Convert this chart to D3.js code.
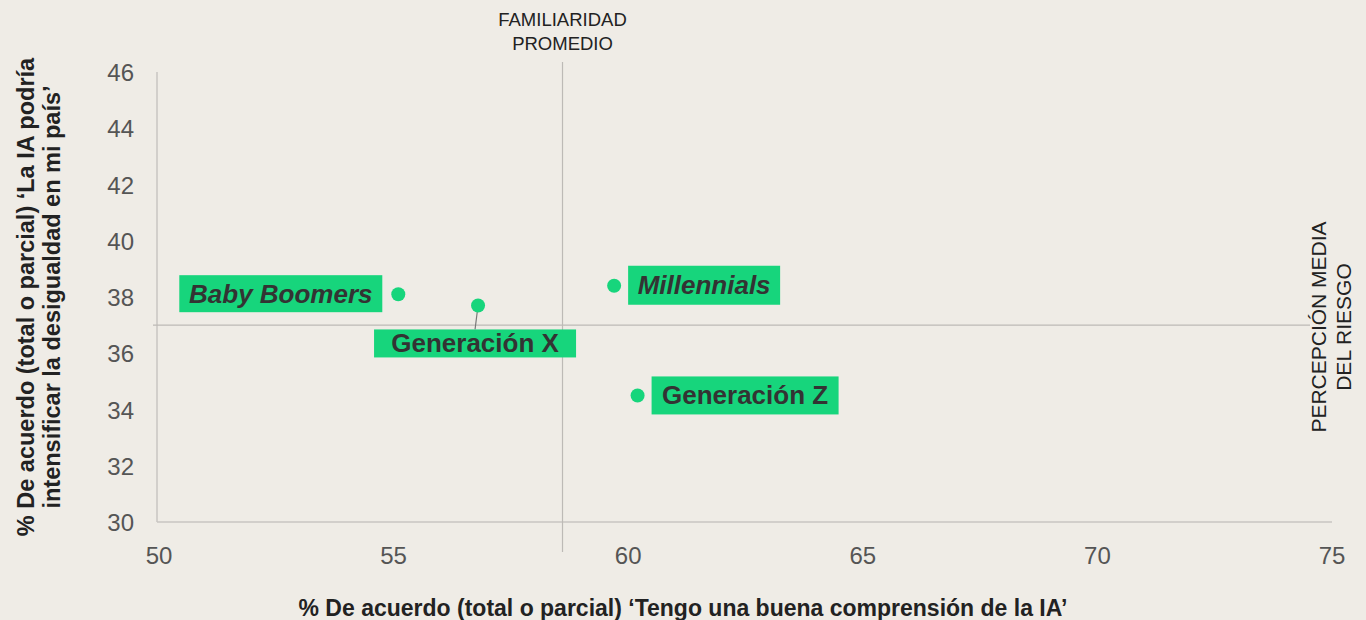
<!DOCTYPE html>
<html>
<head>
<meta charset="utf-8">
<script src="https://cdn.jsdelivr.net/npm/d3@7"></script>
<style>
  body { margin: 0; background: #efece6; }
  svg { font-family: "Liberation Sans", Arial, sans-serif; }
</style>
</head>
<body>
<svg id="chart" width="1366" height="620"></svg>
<script>
// generations and their values
var groups = ["Baby Boomers", "Generación X", "Millennials", "Generación Z"]
var comprension = [55.1, 56.8, 59.7, 60.2]
var desigualdad = [38.1, 37.7, 38.4, 34.5]
var italic = [true, false, true, false]

var xTicks = [50, 55, 60, 65, 70, 75]
var yTicks = [30, 32, 34, 36, 38, 40, 42, 44, 46]
var avgX = 58.6
var avgY = 37.0

var green = "#17d57c"
var svg = d3.select("#chart")

var x = d3.scaleLinear().domain([50, 75]).range([159, 1332])
var y = d3.scaleLinear().domain([30, 46]).range([522, 72])

// axes lines
svg.append("line")
  .attr("x1", 157).attr("x2", 157).attr("y1", y(46)).attr("y2", y(30))
  .attr("stroke", "#c9c6c2").attr("stroke-width", 1.5)
svg.append("line")
  .attr("x1", 157).attr("x2", x(75)).attr("y1", y(30)).attr("y2", y(30))
  .attr("stroke", "#c9c6c2").attr("stroke-width", 1.5)

// tick labels
svg.append("g").selectAll("text")
  .data(xTicks).enter().append("text")
  .attr("x", function(d) { return x(d) })
  .attr("y", 564)
  .attr("text-anchor", "middle")
  .attr("font-size", 24)
  .attr("fill", "#555")
  .text(function(d) { return d })

svg.append("g").selectAll("text")
  .data(yTicks).enter().append("text")
  .attr("x", 134)
  .attr("y", function(d) { return y(d) + 9 })
  .attr("text-anchor", "end")
  .attr("font-size", 24)
  .attr("fill", "#555")
  .text(function(d) { return d })

// reference lines
svg.append("line")
  .attr("x1", x(avgX)).attr("x2", x(avgX)).attr("y1", 62).attr("y2", 552)
  .attr("stroke", "#bdbab6").attr("stroke-width", 1.2)
svg.append("line")
  .attr("x1", 153).attr("x2", 1310).attr("y1", y(avgY)).attr("y2", y(avgY))
  .attr("stroke", "#bdbab6").attr("stroke-width", 1.2)

svg.append("text")
  .attr("x", x(avgX)).attr("y", 26)
  .attr("text-anchor", "middle").attr("font-size", 18.5).attr("fill", "#222")
  .selectAll("tspan").data(["FAMILIARIDAD", "PROMEDIO"]).enter().append("tspan")
  .attr("x", x(avgX)).attr("dy", function(d, i) { return i ? 24 : 0 })
  .text(function(d) { return d })

svg.append("text")
  .attr("transform", "translate(1326,327) rotate(-90)")
  .attr("text-anchor", "middle").attr("font-size", 21).attr("fill", "#222")
  .selectAll("tspan").data(["PERCEPCIÓN MEDIA", "DEL RIESGO"]).enter().append("tspan")
  .attr("x", 0).attr("dy", function(d, i) { return i ? 25 : 0 })
  .text(function(d) { return d })

// axis titles
svg.append("text")
  .attr("x", 683).attr("y", 616)
  .attr("text-anchor", "middle").attr("font-size", 23).attr("font-weight", "bold").attr("fill", "#222")
  .text("% De acuerdo (total o parcial) ‘Tengo una buena comprensión de la IA’")

svg.append("text")
  .attr("transform", "translate(34,297) rotate(-90)")
  .attr("text-anchor", "middle").attr("font-size", 23.5).attr("font-weight", "bold").attr("fill", "#222")
  .selectAll("tspan").data(["% De acuerdo (total o parcial) ‘La IA podría", "intensificar la desigualdad en mi país’"]).enter().append("tspan")
  .attr("x", 0).attr("dy", function(d, i) { return i ? 26 : 0 })
  .text(function(d) { return d })

// label boxes: offsets relative to the point (layout only)
var boxes = [
  { dx: -219, dy: -19, w: 203, h: 37 },
  { dx: -104, dy: 24, w: 202, h: 28 },
  { dx: 14, dy: -20, w: 152, h: 39 },
  { dx: 14, dy: -19, w: 187, h: 38 }
]

var pts = groups.map(function(g, i) {
  return { name: g, cx: x(comprension[i]), cy: y(desigualdad[i]), it: italic[i], b: boxes[i] }
})

// leader line for Generación X
svg.append("line")
  .attr("x1", pts[1].cx).attr("y1", pts[1].cy)
  .attr("x2", pts[1].cx - 3).attr("y2", pts[1].cy + pts[1].b.dy)
  .attr("stroke", "#777").attr("stroke-width", 1.2)

var lab = svg.append("g").selectAll("g").data(pts).enter().append("g")
lab.append("rect")
  .attr("x", function(d) { return d.cx + d.b.dx })
  .attr("y", function(d) { return d.cy + d.b.dy })
  .attr("width", function(d) { return d.b.w })
  .attr("height", function(d) { return d.b.h })
  .attr("fill", green)
lab.append("text")
  .attr("x", function(d) { return d.cx + d.b.dx + d.b.w / 2 })
  .attr("y", function(d) { return d.cy + d.b.dy + d.b.h / 2 + 9 })
  .attr("text-anchor", "middle")
  .attr("font-size", 26)
  .attr("font-weight", "bold")
  .attr("font-style", function(d) { return d.it ? "italic" : "normal" })
  .attr("fill", "#333")
  .text(function(d) { return d.name })

svg.append("g").selectAll("circle").data(pts).enter().append("circle")
  .attr("cx", function(d) { return d.cx })
  .attr("cy", function(d) { return d.cy })
  .attr("r", 7)
  .attr("fill", green)
</script>
</body>
</html>
